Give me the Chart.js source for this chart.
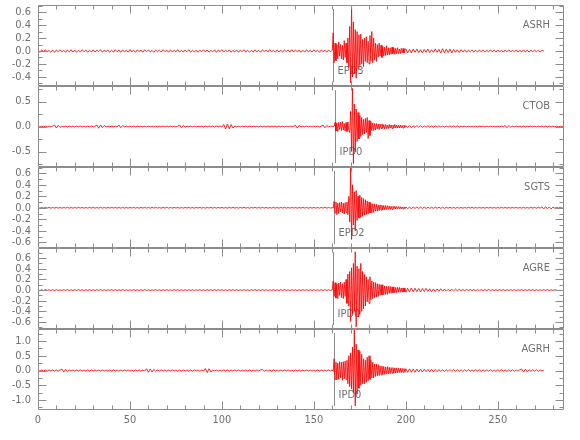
<!DOCTYPE html>
<html>
<head>
<meta charset="utf-8">
<script src="https://cdn.jsdelivr.net/npm/chart.js@4.4.1/dist/chart.umd.min.js"></script>
<style>
  body { margin: 0; background: #fff; }
  #wrap { position: relative; width: 580px; height: 440px; }
  canvas { position: absolute; left: 0; }
</style>
</head>
<body>
<div id="wrap"></div>
<script>
// stations, picks and axis ticks
const stations = ['ASRH', 'CTOB', 'SGTS', 'AGRE', 'AGRH'];
const pickLabels = ['EPD3', 'IPD0', 'EPD2', 'IPD0', 'IPD0'];
const pickTimes = [160.3, 161.5, 160.8, 160.3, 160.8];
const xTicks = [0, 50, 100, 150, 200, 250];
const yTicks = [
  [-0.4, -0.2, 0, 0.2, 0.4, 0.6],
  [-0.5, 0, 0.5],
  [-0.6, -0.4, -0.2, 0, 0.2, 0.4, 0.6],
  [-0.6, -0.4, -0.2, 0, 0.2, 0.4, 0.6],
  [-1, -0.5, 0, 0.5, 1]
];
const yMin = [-0.54, -0.81, -0.70, -0.73, -1.34];
const yMax = [0.71, 0.81, 0.71, 0.79, 1.41];

// trace samples: pre-event every 1 s from 0, event every 0.5 s from 160,
// coda every 1 s from 200 to the end of the record
const asrhPre = [
  0.01,-0.02,0.015,-0.01,0.02,-0.015,0.01,-0.018,0.012,-0.02,0.016,-0.01,0.018,-0.014,0.012,-0.02,0.015,-0.012,0.02,-0.016,
  0.014,-0.018,0.01,-0.015,0.02,-0.012,0.016,-0.02,0.01,-0.014,0.018,-0.016,0.012,-0.01,0.02,-0.018,0.014,-0.012,0.016,-0.02,
  0.012,-0.016,0.02,-0.01,0.015,-0.02,0.018,-0.012,0.01,-0.018,0.022,-0.014,0.012,-0.02,0.016,-0.01,0.014,-0.018,0.02,-0.012,
  0.018,-0.014,0.01,-0.02,0.016,-0.012,0.014,-0.016,0.02,-0.01,0.012,-0.02,0.018,-0.015,0.01,-0.014,0.02,-0.018,0.012,-0.016,
  0.016,-0.012,0.02,-0.018,0.01,-0.016,0.014,-0.02,0.012,-0.01,0.02,-0.014,0.016,-0.018,0.01,-0.012,0.018,-0.02,0.014,-0.01,
  0.02,-0.016,0.012,-0.014,0.018,-0.02,0.01,-0.012,0.016,-0.018,0.014,-0.01,0.02,-0.016,0.012,-0.02,0.01,-0.014,0.018,-0.012,
  0.012,-0.02,0.018,-0.01,0.014,-0.016,0.02,-0.012,0.01,-0.018,0.016,-0.014,0.012,-0.02,0.018,-0.01,0.015,-0.016,0.02,-0.014,
  0.016,-0.01,0.014,-0.02,0.012,-0.018,0.02,-0.014,0.01,-0.016,0.018,-0.012,0.014,-0.02,0.016,-0.01,0.012,-0.018,0.015,-0.01];
const asrhEvent = [0.01,0.28,-0.18,0.12,-0.15,0.10,-0.12,0.14,-0.08,0.10,
  -0.12,0.09,-0.14,0.16,-0.10,0.12,-0.18,0.20,-0.25,0.38,
  -0.49,0.68,-0.40,0.45,-0.35,0.33,-0.42,0.30,-0.28,0.25,
  -0.22,0.26,-0.20,0.18,-0.24,0.20,-0.16,0.22,-0.18,0.15,
  -0.20,0.24,-0.15,0.30,-0.18,0.20,-0.14,0.12,-0.16,0.10,
  -0.09,0.12,-0.08,0.09,-0.10,0.07,-0.08,0.06,-0.07,0.08,
  -0.06,0.05,-0.06,0.05,-0.05,0.06,-0.04,0.05,-0.05,0.04,
  -0.04,0.05,-0.04,0.03,-0.04,0.04,-0.03,0.04,-0.03,0.03];
const asrhCoda = [
  0.03,-0.03,0.025,-0.03,0.03,-0.02,0.03,-0.025,0.02,-0.03,0.025,-0.02,0.03,-0.025,0.02,-0.02,0.03,-0.02,0.025,-0.03,
  0.035,-0.03,0.03,-0.025,0.03,-0.03,0.025,-0.02,0.02,-0.025,
  0.02,-0.015,0.018,-0.02,0.015,-0.012,0.018,-0.015,0.012,-0.018,0.015,-0.012,0.015,-0.014,0.012,-0.016,0.018,-0.012,0.014,-0.018,
  0.016,-0.014,0.012,-0.018,0.015,-0.012,0.018,-0.016,0.014,-0.012,0.016,-0.018,0.012,-0.014,0.018,-0.015,0.012,-0.016,0.014,-0.012,
  0.015,-0.014,0.012,-0.015,0.01,0.0];

const ctobPre = [
  0.006,-0.008,0.005,-0.007,0.008,-0.006,0.007,-0.005,0.008,0.03,-0.03,0.025,-0.02,0.008,-0.006,0.007,-0.008,0.005,-0.007,0.006,
  -0.008,0.006,-0.005,0.008,-0.007,0.006,-0.008,0.005,-0.006,0.008,-0.007,0.006,0.03,-0.035,0.03,-0.025,0.02,-0.008,0.006,-0.007,
  0.008,-0.006,0.005,-0.008,0.03,-0.025,0.02,-0.007,0.006,-0.008,0.005,-0.006,0.008,-0.007,0.006,-0.005,0.008,-0.006,0.007,-0.008,
  0.006,-0.005,0.008,-0.007,0.006,-0.008,0.005,-0.006,0.008,-0.007,0.006,-0.005,0.008,-0.006,0.007,-0.008,0.006,0.03,-0.025,0.02,
  -0.008,0.006,-0.005,0.008,-0.007,0.006,-0.008,0.005,-0.006,0.008,-0.007,0.006,-0.005,0.008,-0.006,0.007,-0.008,0.006,-0.005,0.008,
  -0.01,0.04,-0.05,0.05,-0.045,0.04,-0.03,0.01,-0.008,0.006,-0.007,0.008,-0.005,0.006,-0.008,0.007,-0.006,0.005,-0.008,0.006,
  -0.007,0.008,-0.006,0.005,-0.008,0.007,-0.006,0.008,-0.005,0.006,-0.008,0.007,-0.006,0.005,-0.008,0.006,-0.007,0.008,-0.006,0.005,
  0.025,-0.03,0.02,-0.008,0.006,-0.007,0.008,-0.005,0.006,-0.008,0.007,-0.006,0.005,-0.008,0.006,0.03,-0.025,0.02,-0.008,0.006];
const ctobEvent = [0.005,-0.006,0.004,0.08,-0.09,0.07,-0.10,0.08,-0.06,0.09,
  -0.08,0.10,-0.07,0.06,-0.09,0.08,-0.10,0.09,-0.08,-0.12,
  0.30,-0.50,0.76,-0.74,0.45,-0.50,0.35,-0.30,0.28,-0.25,
  0.22,-0.20,0.18,-0.16,0.14,-0.15,0.16,-0.12,0.18,-0.24,
  0.12,-0.18,0.10,-0.08,0.07,-0.08,0.06,-0.07,0.06,-0.05,
  0.05,-0.06,0.05,-0.04,0.05,-0.04,0.04,-0.05,0.04,-0.04,
  0.03,-0.04,0.04,-0.03,0.03,-0.04,0.03,-0.03,0.04,-0.03,
  0.03,-0.03,0.025,-0.03,0.03,-0.025,0.02,-0.03,0.025,-0.02];
const ctobCoda = [
  0.02,-0.02,0.018,-0.02,0.015,-0.018,0.02,-0.015,0.015,-0.015,0.012,-0.015,0.015,-0.012,0.012,-0.012,0.01,-0.012,0.012,-0.01,
  0.01,-0.012,0.01,-0.01,0.012,-0.01,0.01,-0.008,0.01,-0.01,
  0.008,-0.006,0.007,-0.008,0.005,-0.007,0.006,-0.008,0.007,-0.005,0.008,-0.006,0.007,-0.008,0.006,-0.005,0.008,-0.007,0.006,-0.008,
  0.005,-0.007,0.008,-0.006,0.02,-0.025,0.02,-0.015,0.008,-0.006,0.007,-0.008,0.005,-0.007,0.006,-0.008,0.007,-0.005,0.008,-0.006,
  0.007,-0.008,0.006,-0.005,0.008,-0.007,0.006,-0.008,0.005,-0.007,0.008,-0.006,0.007,-0.008,0.006,-0.005,0.004];

const sgtsPre = [
  0.006,-0.007,0.005,-0.006,0.007,-0.005,0.006,-0.007,0.005,-0.006,0.007,-0.006,0.005,-0.007,0.006,-0.005,0.007,-0.006,0.005,-0.007,
  0.005,-0.006,0.007,-0.005,0.006,-0.007,0.005,-0.006,0.007,-0.005,0.006,-0.007,0.005,-0.006,0.007,-0.006,0.005,-0.007,0.006,-0.005,
  0.007,-0.005,0.006,-0.007,0.005,-0.006,0.007,-0.006,0.005,-0.007,0.006,-0.005,0.007,-0.006,0.005,-0.007,0.006,-0.005,0.007,-0.006,
  0.005,-0.007,0.006,-0.005,0.007,-0.006,0.005,-0.007,0.006,-0.005,0.007,-0.006,0.005,-0.006,0.007,-0.005,0.006,-0.007,0.005,-0.006,
  0.006,-0.005,0.007,-0.006,0.005,-0.007,0.006,-0.005,0.007,-0.006,0.005,-0.007,0.006,-0.005,0.007,-0.006,0.005,-0.006,0.007,-0.005,
  0.007,-0.006,0.005,-0.007,0.006,-0.005,0.007,-0.006,0.005,-0.007,0.006,-0.005,0.007,-0.006,0.005,-0.007,0.006,-0.005,0.007,-0.006,
  0.005,-0.006,0.007,-0.005,0.006,-0.007,0.005,-0.006,0.007,-0.006,0.005,-0.007,0.006,-0.005,0.007,-0.006,0.005,-0.007,0.006,-0.005,
  0.006,-0.007,0.005,-0.006,0.007,-0.005,0.006,-0.007,0.005,-0.006,0.007,-0.006,0.005,-0.007,0.006,-0.005,0.007,-0.006,0.005,-0.006];
const sgtsEvent = [0.004,-0.005,0.11,-0.09,0.10,-0.12,0.08,-0.10,0.09,-0.07,
  0.10,-0.09,0.08,-0.11,0.09,-0.08,0.10,-0.12,0.20,-0.25,
  0.70,-0.55,0.40,-0.30,0.28,-0.40,0.30,-0.22,0.20,-0.18,
  0.22,-0.17,0.18,-0.15,0.16,-0.13,0.14,-0.12,0.12,-0.11,
  0.10,-0.09,0.08,-0.09,0.07,-0.08,0.07,-0.06,0.06,-0.06,
  0.05,-0.05,0.05,-0.04,0.045,-0.04,0.04,-0.035,0.04,-0.03,
  0.035,-0.03,0.03,-0.03,0.025,-0.03,0.025,-0.02,0.025,-0.02,
  0.02,-0.02,0.02,-0.018,0.018,-0.02,0.015,-0.018,0.015,-0.015];
const sgtsCoda = [
  0.015,-0.014,0.012,-0.015,0.013,-0.012,0.014,-0.012,0.012,-0.011,0.011,-0.012,0.01,-0.011,0.01,-0.01,0.011,-0.009,0.01,-0.01,
  0.009,-0.01,0.009,-0.008,0.009,-0.008,0.008,-0.009,0.008,-0.008,
  0.006,-0.007,0.005,-0.006,0.007,-0.005,0.006,-0.007,0.005,-0.006,0.007,-0.006,0.005,-0.007,0.006,-0.005,0.007,-0.006,0.005,-0.007,
  0.005,-0.006,0.007,-0.005,0.006,-0.007,0.005,-0.006,0.007,-0.005,0.006,-0.007,0.005,-0.006,0.007,-0.006,0.005,-0.007,0.006,-0.005,
  0.006,-0.007,0.005,-0.006,0.015,-0.02,0.02,-0.018,0.015,-0.02,0.012,-0.007,0.006,-0.005,0.007,-0.006,0.005];

const agrePre = [
  0.008,-0.009,0.007,-0.008,0.009,-0.007,0.008,-0.009,0.007,-0.008,0.009,-0.008,0.007,-0.009,0.008,-0.007,0.009,-0.008,0.007,-0.009,
  0.007,-0.008,0.009,-0.007,0.008,-0.009,0.007,-0.008,0.009,-0.007,0.008,-0.009,0.007,-0.008,0.009,-0.008,0.007,-0.009,0.008,-0.007,
  0.009,-0.007,0.008,-0.009,0.007,-0.008,0.009,-0.008,0.007,-0.009,0.008,-0.007,0.009,-0.008,0.007,-0.009,0.008,-0.007,0.009,-0.008,
  0.007,-0.009,0.008,-0.007,0.009,-0.008,0.007,-0.009,0.008,-0.007,0.009,-0.008,0.007,-0.008,0.009,-0.007,0.008,-0.009,0.007,-0.008,
  0.008,-0.007,0.009,-0.008,0.007,-0.009,0.008,-0.007,0.009,-0.008,0.007,-0.009,0.008,-0.007,0.009,-0.008,0.007,-0.008,0.009,-0.007,
  0.009,-0.008,0.007,-0.009,0.008,-0.007,0.009,-0.008,0.007,-0.009,0.008,-0.007,0.009,-0.008,0.007,-0.009,0.008,-0.007,0.009,-0.008,
  0.007,-0.008,0.009,-0.007,0.008,-0.009,0.007,-0.008,0.009,-0.008,0.007,-0.009,0.008,-0.007,0.009,-0.008,0.007,-0.009,0.008,-0.007,
  0.008,-0.009,0.007,-0.008,0.009,-0.007,0.008,-0.009,0.007,-0.008,0.009,-0.008,0.007,-0.009,0.008,-0.007,0.009,-0.008,0.007,-0.008];
const agreEvent = [0.005,0.17,-0.12,0.14,-0.15,0.12,-0.16,0.13,-0.10,0.15,
  -0.14,0.12,-0.16,0.15,-0.12,0.20,-0.25,0.30,-0.30,0.35,
  -0.59,0.42,-0.45,0.50,-0.40,0.72,-0.69,0.45,-0.50,0.40,
  -0.45,0.50,-0.40,0.35,-0.35,0.30,-0.30,0.25,-0.22,0.20,
  -0.25,0.25,-0.18,0.17,-0.16,0.15,-0.14,0.14,-0.13,0.12,
  -0.12,0.11,-0.10,0.10,-0.09,0.10,-0.09,0.08,-0.08,0.07,
  -0.08,0.07,-0.06,0.07,-0.06,0.06,-0.05,0.06,-0.05,0.05,
  -0.05,0.05,-0.04,0.05,-0.04,0.04,-0.04,0.04,-0.035,0.04];
const agreCoda = [
  -0.04,0.035,-0.035,0.04,-0.03,0.035,-0.03,0.03,-0.035,0.03,-0.025,0.03,-0.025,0.025,-0.03,0.02,-0.025,0.02,-0.02,0.025,
  -0.02,0.018,-0.02,0.015,-0.018,0.015,-0.015,0.018,-0.012,0.015,
  -0.012,0.01,-0.012,0.011,-0.01,0.012,-0.01,0.011,-0.012,0.01,-0.011,0.01,-0.012,0.01,-0.01,0.011,-0.009,0.01,-0.01,0.009,
  -0.01,0.009,-0.008,0.01,-0.009,0.008,-0.01,0.009,-0.008,0.009,-0.01,0.008,-0.009,0.01,-0.008,0.009,-0.008,0.01,-0.009,0.008,
  -0.009,0.008,-0.01,0.009,-0.008,0.009,-0.008,0.01,-0.009,0.008,-0.008,0.006,0.0];

const agrhPre = [
  0.02,-0.015,0.018,-0.02,0.015,-0.018,0.02,-0.015,0.018,-0.02,0.015,-0.018,0.02,0.05,-0.05,0.045,-0.04,0.02,-0.015,0.018,
  -0.02,0.015,-0.018,0.02,-0.015,0.018,-0.02,0.015,-0.018,0.02,-0.015,0.018,-0.02,0.015,-0.018,0.02,-0.015,0.018,-0.02,0.015,
  -0.018,0.02,-0.015,0.018,-0.02,0.015,-0.018,0.02,-0.015,0.018,-0.02,0.015,-0.018,0.02,-0.015,0.018,-0.02,0.015,-0.018,0.06,
  -0.06,0.055,-0.05,0.04,-0.02,0.015,-0.018,0.02,-0.015,0.018,-0.02,0.015,-0.018,0.02,-0.015,0.018,-0.02,0.015,-0.018,0.02,
  -0.015,0.018,-0.02,0.015,-0.018,0.02,-0.015,0.018,-0.02,0.015,-0.018,0.07,-0.07,0.06,-0.05,0.02,-0.015,0.018,-0.02,0.015,
  -0.018,0.02,-0.015,0.018,-0.02,0.015,-0.018,0.02,-0.015,0.018,-0.02,0.015,-0.018,0.02,-0.015,0.018,-0.02,0.015,-0.018,0.02,
  -0.015,0.018,0.04,-0.035,0.018,-0.02,0.015,-0.018,0.02,-0.015,0.018,-0.02,0.015,-0.018,0.02,-0.015,0.018,-0.02,0.015,-0.018,
  0.02,-0.015,0.018,-0.02,0.015,-0.018,0.02,-0.015,0.018,-0.02,0.015,-0.018,0.02,-0.015,0.018,-0.02,0.015,-0.018,0.02,-0.015];
const agrhEvent = [0.02,-0.03,0.40,-0.30,0.28,-0.32,0.25,-0.30,0.30,-0.25,
  0.28,-0.33,0.30,-0.28,0.32,-0.30,0.35,-0.45,0.50,-0.55,
  0.60,-0.62,0.80,-0.75,1.38,-1.20,0.90,-0.80,0.70,-0.60,
  0.65,-0.50,0.55,-0.45,0.40,-0.45,0.35,-0.40,0.45,-0.35,
  0.50,-0.30,0.35,-0.25,0.28,-0.25,0.22,-0.20,0.22,-0.18,
  0.20,-0.17,0.16,-0.15,0.15,-0.14,0.14,-0.13,0.12,-0.12,
  0.13,-0.11,0.11,-0.10,0.10,-0.09,0.10,-0.09,0.09,-0.08,
  0.09,-0.08,0.08,-0.07,0.08,-0.07,0.07,-0.06,0.07,-0.06];
const agrhCoda = [
  0.06,-0.06,0.055,-0.06,0.05,-0.055,0.05,-0.05,0.045,-0.05,0.045,-0.04,0.04,-0.045,0.04,-0.04,0.035,-0.04,0.035,-0.035,
  0.03,-0.035,0.03,-0.03,0.035,-0.03,0.03,-0.025,0.03,-0.03,
  0.025,-0.03,0.025,-0.02,0.03,-0.025,0.02,-0.025,0.03,-0.02,0.025,-0.03,0.02,-0.025,0.025,-0.02,0.03,-0.025,0.02,-0.025,
  0.025,-0.02,0.03,-0.025,0.02,-0.025,0.025,-0.02,0.025,-0.03,0.02,-0.025,0.03,0.05,-0.05,0.045,-0.04,0.025,-0.02,0.025,
  -0.02,0.025,-0.025,0.02,-0.015,0.01];

const traces = [
  [asrhPre, asrhEvent, asrhCoda],
  [ctobPre, ctobEvent, ctobCoda],
  [sgtsPre, sgtsEvent, sgtsCoda],
  [agrePre, agreEvent, agreCoda],
  [agrhPre, agrhEvent, agrhCoda]
];

function seg(start, step, vals) {
  return vals.map((v, i) => ({ x: start + i * step, y: v }));
}
function trace(parts) {
  return [].concat(seg(0, 1, parts[0]), seg(160, 0.5, parts[1]), seg(200, 1, parts[2]));
}

const FONT = '"Liberation Sans Narrow", "DejaVu Sans Condensed", "Roboto Condensed", sans-serif';
const AXIS = '#8c8c8c';
const TEXT = '#707070';

// box with inward ticks, pick line and labels
const frame = {
  id: 'frame',
  beforeDatasetsDraw(chart, args, opts) {
    const { ctx, chartArea: a, scales: { x } } = chart;
    const px = Math.round(x.getPixelForValue(opts.pick)) + 0.5;
    ctx.save();
    ctx.strokeStyle = AXIS;
    ctx.lineWidth = 1;
    ctx.beginPath();
    ctx.moveTo(px, a.top + 4);
    ctx.lineTo(px, a.bottom - 4);
    ctx.stroke();
    ctx.fillStyle = TEXT;
    ctx.font = '11px ' + FONT;
    ctx.textBaseline = 'middle';
    ctx.textAlign = 'left';
    ctx.fillText(opts.pickLabel, px + 4, a.bottom - 15);
    ctx.textAlign = 'right';
    ctx.fillText(opts.name, a.right - 14, a.top + 20);
    ctx.restore();
  },
  afterDraw(chart, args, opts) {
    const { ctx, chartArea: a, scales: { x, y } } = chart;
    const L = Math.round(a.left) + 0.5, R = Math.round(a.right) - 0.5;
    const T = Math.round(a.top) + 0.5, B = Math.round(a.bottom) - 0.5;
    ctx.save();
    ctx.strokeStyle = AXIS;
    ctx.lineWidth = 1;
    ctx.beginPath();
    ctx.rect(L, T, R - L, B - T);
    // x ticks, top and bottom
    for (let t = 10; t < x.max; t += 10) {
      const p = Math.round(x.getPixelForValue(t)) + 0.5;
      const len = t % 50 === 0 ? 8 : 4;
      ctx.moveTo(p, B); ctx.lineTo(p, B - len);
      ctx.moveTo(p, T); ctx.lineTo(p, T + len);
    }
    // y ticks, left and right
    const tk = opts.ticks;
    const half = (tk[1] - tk[0]) / 2;
    for (let v = tk[0] - 2 * half; v <= y.max + 1e-9; v += half) {
      if (v < y.min) continue;
      const major = tk.some(m => Math.abs(m - v) < 1e-6);
      const len = major ? 8 : 4;
      const p = Math.round(y.getPixelForValue(v)) + 0.5;
      ctx.moveTo(L, p); ctx.lineTo(L + len, p);
      ctx.moveTo(R, p); ctx.lineTo(R - len, p);
    }
    ctx.stroke();
    ctx.restore();
  }
};

const panelTop = [5, 86, 167, 248, 329];
const panelH = 81;
const wrap = document.getElementById('wrap');

stations.forEach((name, k) => {
  const last = k === stations.length - 1;
  const cv = document.createElement('canvas');
  cv.width = 580;
  cv.height = panelH + (last ? 30 : 0);
  cv.style.top = panelTop[k] + 'px';
  wrap.appendChild(cv);

  new Chart(cv.getContext('2d'), {
    type: 'line',
    data: {
      datasets: [{
        data: trace(traces[k]),
        borderColor: 'rgba(255,0,0,0.85)',
        borderWidth: 1,
        pointRadius: 0,
        tension: 0,
        fill: false
      }]
    },
    options: {
      responsive: false,
      animation: false,
      events: [],
      layout: { padding: { left: 0, right: 16, top: 0, bottom: 0 } },
      plugins: {
        legend: { display: false },
        tooltip: { enabled: false },
        frame: { name: name, pickLabel: pickLabels[k], pick: pickTimes[k], ticks: yTicks[k] }
      },
      scales: {
        x: {
          type: 'linear',
          min: 0,
          max: 286,
          display: last,
          grid: { display: false, drawTicks: false },
          border: { display: false },
          afterBuildTicks: s => { s.ticks = xTicks.map(v => ({ value: v })); },
          afterFit: s => { s.height = last ? 30 : 0; s.paddingLeft = 0; s.paddingRight = 0; },
          ticks: {
            color: TEXT,
            padding: 4,
            maxRotation: 0,
            autoSkip: false,
            font: { family: FONT, size: 11 },
            callback: v => String(v)
          }
        },
        y: {
          min: yMin[k],
          max: yMax[k],
          grid: { display: false, drawTicks: false },
          border: { display: false },
          afterBuildTicks: s => { s.ticks = yTicks[k].map(v => ({ value: v })); },
          afterFit: s => { s.width = 38; s.paddingTop = 0; s.paddingBottom = 0; },
          ticks: {
            color: TEXT,
            padding: 7,
            autoSkip: false,
            font: { family: FONT, size: 11 },
            callback: v => v.toFixed(1)
          }
        }
      }
    },
    plugins: [frame]
  });
});
</script>
</body>
</html>
